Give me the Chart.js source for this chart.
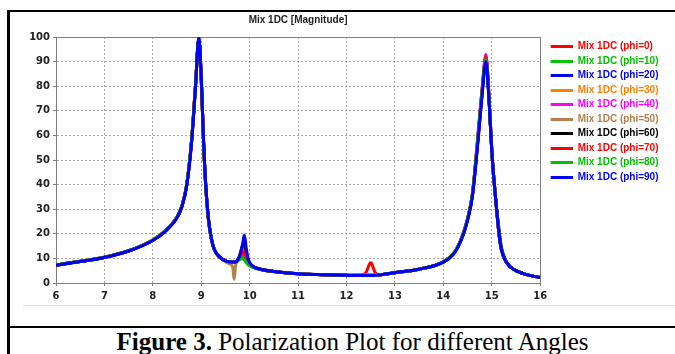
<!DOCTYPE html>
<html>
<head>
<meta charset="utf-8">
<script src="https://cdn.jsdelivr.net/npm/chart.js@4.4.1/dist/chart.umd.min.js"></script>
<style>
  html, body { margin: 0; padding: 0; background: #fff; }
  body { width: 675px; height: 354px; position: relative; overflow: hidden; }
  #frame { position: absolute; left: 7px; top: 10px; width: 668px; height: 344px;
           border-left: 3px solid #000; border-top: 2px solid #000; box-sizing: border-box; }
  #sep { position: absolute; left: 23px; top: 305px; width: 652px; height: 1px; background: #e2e2e2; }
  #rule { position: absolute; left: 7px; top: 326px; width: 668px; height: 2px; background: #000; }
  #cv { position: absolute; left: 12px; top: 12px; }
  #caption { position: absolute; left: 20px; top: 329px; width: 665px; text-align: center;
             font-family: "Liberation Serif", "Times New Roman", serif; font-size: 25px; line-height: 25px;
             color: #000; white-space: nowrap; }
</style>
</head>
<body>
<div id="frame"></div>
<div id="sep"></div>
<div id="rule"></div>
<canvas id="cv" width="663" height="292"></canvas>
<div id="caption"><b>Figure 3.</b> Polarization Plot for different Angles</div>
<script>
// frequency axis (GHz) and the magnitude of each polarization angle
var freq = [6, 6.5, 7, 7.5, 8, 8.25, 8.5, 8.6, 8.7, 8.8, 8.88, 8.95, 9.0, 9.05, 9.1, 9.15, 9.2, 9.25, 9.3, 9.4,
            9.5, 9.6, 9.65, 9.68, 9.71, 9.75, 9.8, 9.85, 9.89, 9.93, 9.97, 10.05, 10.2, 10.5, 11, 11.5, 12, 12.3, 12.4, 12.5,
            12.6, 12.7, 13, 13.5, 14, 14.2, 14.3, 14.4, 14.5, 14.6, 14.7, 14.8, 14.88, 14.95, 15.0, 15.05, 15.1, 15.15, 15.2, 15.3,
            15.4, 15.5, 15.7, 16];

var phi0  = [7.4,8.8,10.5,13.1,17.5,21.1,26.8,31.3,40,58, 80,99,83,56,37,25.5,18.8,14.7,12.4,10.2,
             9.0,8.6,8.5,8.5,8.6,9.2,10.5,12.5,11.5,9.5, 8.2,6.8,5.7,4.7,3.8,3.4,3.2,3.1,4.2,8.3,
             4.0,3.3,4.2,5.6,8.6,11.8,14.8,19.5,26,36, 56,78,92,73,54,41,30,20,13.5,8.5, 6.3,5.0,3.5,2.2];
var phi10 = [7.4,8.8,10.5,13.1,17.5,21.1,26.8,31.3,40,58, 80,99,83,56,37,25.5,18.8,14.7,12.4,10.2,
             9.0,8.6,8.5,8.5,8.6,9.0,9.8,10.5,9.8,8.5, 7.5,6.6,5.6,4.7,3.8,3.4,3.2,3.1,3.1,3.1,
             3.2,3.4,4.2,5.6,8.6,11.8,14.8,19.5,26,36, 56,78,91,73,54,41,30,20,13.5,8.5, 6.3,5.0,3.5,2.2];
var phi20 = [7.3,8.7,10.4,13.0,17.4,21.0,26.6,31.1,39.7,57.5, 79.5,99.5,83.5,56.5,37.5,25.8,18.9,14.8,12.5,10.2,
             9.0,8.6,8.5,8.5,8.6,9.3,11,13.5,14,11, 8.8,7.0,5.7,4.7,3.8,3.4,3.1,3.0,3.0,3.0,
             3.1,3.3,4.2,5.6,8.5,11.6,14.6,19.2,25.8,35.5, 55,77,90.5,72.5,54,41,30,20,13.5,8.5, 6.3,5.0,3.5,2.2];
var phi30 = [7.4,8.8,10.5,13.1,17.5,21.1,26.8,31.3,40,58, 80,99,83,56,37,25.5,18.8,14.7,12.4,10.2,
             9.0,8.6,8.5,8.5,8.6,9.2,10.8,13,12.5,10, 8.5,6.9,5.7,4.7,3.8,3.4,3.2,3.1,3.1,3.1,
             3.2,3.4,4.2,5.6,8.6,11.8,14.8,19.5,26,36, 56,78,91.5,73,54,41,30,20,13.5,8.5, 6.3,5.0,3.5,2.2];
var phi40 = [7.4,8.8,10.5,13.1,17.5,21.1,26.8,31.3,40,58, 80,99,83,56,37,25.5,18.8,14.7,12.4,10.2,
             9.0,8.6,8.5,8.5,8.6,9.1,10.4,12,11.2,9.4, 8.1,6.8,5.7,4.7,3.8,3.4,3.2,3.1,3.1,3.1,
             3.2,3.4,4.2,5.6,8.6,11.8,14.8,19.5,26,36, 57,79,93,74,55,41,30,20,13.5,8.5, 6.3,5.0,3.5,2.2];
var phi50 = [7.3,8.7,10.4,13.0,17.4,21.0,26.6,31.1,39.7,57.5, 79.5,99.5,83.5,56.5,37.5,25.8,18.9,14.8,12.5,10.2,
             8.6,7.6,6.5,1.5,7.0,9.0,11,14,14.5,11, 8.8,7.0,5.7,4.7,3.8,3.4,3.1,3.0,3.0,3.0,
             3.1,3.3,4.2,5.6,8.5,11.6,14.6,19.2,25.8,35.5, 55,77,91,73,54,41,30,20,13.5,8.5, 6.3,5.0,3.5,2.2];
var phi60 = [7.3,8.7,10.4,13.0,17.4,21.0,26.6,31.1,39.7,57.5, 79.5,99.5,83.5,56.5,37.5,25.8,18.9,14.8,12.5,10.2,
             9.0,8.6,8.5,8.5,8.6,9.4,11.5,15,16.5,12.5, 9.2,7.0,5.7,4.7,3.8,3.4,3.1,3.0,3.0,3.0,
             3.1,3.3,4.2,5.6,8.5,11.6,14.6,19.2,25.8,35.5, 55,77,90.5,72.5,54,41,30.5,22,14.5,8.8, 6.3,5.0,3.5,2.2];
var phi70 = [7.4,8.8,10.5,13.1,17.5,21.1,26.8,31.3,40,58, 80,99,83,56,37,25.5,18.8,14.7,12.4,10.2,
             9.0,8.6,8.5,8.5,8.6,9.2,10.6,12.8,12.5,10, 8.4,6.9,5.7,4.7,3.8,3.4,3.2,3.1,3.1,3.1,
             3.2,3.4,4.2,5.6,8.6,11.8,14.8,19.5,26,36, 56,78,92,73,54,41,30,20,13.5,8.5, 6.3,5.0,3.5,2.2];
var phi80 = [7.4,8.8,10.5,13.1,17.5,21.1,26.8,31.3,40,58, 80,99,83,56,37,25.5,18.8,14.7,12.4,10.2,
             9.0,8.6,8.5,8.5,8.6,9.0,9.6,10,9.4,8.3, 7.4,6.6,5.6,4.7,3.8,3.4,3.2,3.1,3.1,3.1,
             3.2,3.4,4.2,5.6,8.6,11.8,14.8,19.5,26,36, 56,78,91,73,54,41,30,20,13.5,8.5, 6.3,5.0,3.5,2.2];
var phi90 = [7.3,8.7,10.4,13.0,17.3,20.8,26.5,31,39.5,57, 79,100,84,57,38,26,19,14.8,12.5,10.2,
             9.0,8.6,8.5,8.5,8.6,9.3,11.5,15.5,19.5,14, 9.8,7.0,5.7,4.7,3.8,3.4,3.1,3.0,3.0,3.0,
             3.1,3.3,4.2,5.6,8.5,11.5,14.5,19,25.5,35, 54,76,90,72,54,41,30,20,13.5,8.5, 6.3,5.0,3.5,2.2];

var seriesNames  = ['Mix 1DC (phi=0)', 'Mix 1DC (phi=10)', 'Mix 1DC (phi=20)', 'Mix 1DC (phi=30)', 'Mix 1DC (phi=40)',
                    'Mix 1DC (phi=50)', 'Mix 1DC (phi=60)', 'Mix 1DC (phi=70)', 'Mix 1DC (phi=80)', 'Mix 1DC (phi=90)'];
var seriesValues = [phi0, phi10, phi20, phi30, phi40, phi50, phi60, phi70, phi80, phi90];
var seriesColors = ['#ff0000', '#00c000', '#0000ff', '#ff8000', '#ff00ff',
                    '#b4804e', '#000000', '#ff0000', '#00c000', '#0000ff'];

var xTicks = [6, 7, 8, 9, 10, 11, 12, 13, 14, 15, 16];
var yTicks = [0, 10, 20, 30, 40, 50, 60, 70, 80, 90, 100];

var datasets = [];
for (var i = 0; i < seriesValues.length; i++) {
    var pts = [];
    for (var j = 0; j < freq.length; j++) {
        pts.push({ x: freq[j], y: seriesValues[i][j] });
    }
    datasets.push({
        label: seriesNames[i],
        data: pts,
        borderColor: seriesColors[i],
        backgroundColor: seriesColors[i],
        borderWidth: 3,
        pointRadius: 0,
        cubicInterpolationMode: 'monotone',
        // last angle is painted on top, like the original
        order: seriesValues.length - 1 - i
    });
}

var tickFont = { family: 'DejaVu Sans', weight: 'bold', size: 10 };
var labelFont = { family: 'Liberation Sans', weight: 'bold', size: 10 };

// legend swatch: a short thick line with some empty room on its left
function lineSwatch(color) {
    var c = document.createElement('canvas');
    c.width = 28;
    c.height = 3;
    var g = c.getContext('2d');
    g.fillStyle = color;
    g.fillRect(6, 0, 22, 3);
    return c;
}

// closes the plot box on the top and right side
var plotBox = {
    id: 'plotBox',
    beforeDatasetsDraw: function(chart) {
        var a = chart.chartArea;
        var ctx = chart.ctx;
        ctx.save();
        ctx.strokeStyle = '#808080';
        ctx.lineWidth = 1;
        ctx.beginPath();
        ctx.moveTo(Math.round(a.left) + 0.5, Math.round(a.top) + 0.5);
        ctx.lineTo(Math.round(a.right) + 0.5, Math.round(a.top) + 0.5);
        ctx.lineTo(Math.round(a.right) + 0.5, Math.round(a.bottom) + 0.5);
        ctx.stroke();
        ctx.restore();
    }
};

var ctx = document.getElementById('cv').getContext('2d');
var chartObj = new Chart(ctx, {
    type: 'line',
    data: { datasets: datasets },
    plugins: [plotBox],
    options: {
        responsive: false,
        animation: false,
        layout: { padding: { left: 0, right: 6.5, top: 0, bottom: 0 } },
        scales: {
            x: {
                type: 'linear',
                min: 6, max: 16,
                afterBuildTicks: function(scale) {
                    scale.ticks = xTicks.map(function(v) { return { value: v }; });
                },
                afterFit: function(scale) { scale.height = 21; },
                ticks: { font: tickFont, color: '#222', padding: 4, maxRotation: 0 },
                grid: { color: '#a8a8a8', lineWidth: 1, tickLength: 3, tickColor: '#808080', tickBorderDash: [] },
                border: { color: '#808080', width: 1, dash: [2, 2] }
            },
            y: {
                type: 'linear',
                min: 0, max: 100,
                afterBuildTicks: function(scale) {
                    scale.ticks = yTicks.map(function(v) { return { value: v }; });
                },
                afterFit: function(scale) { scale.width = 44; },
                ticks: { font: tickFont, color: '#222', padding: 3 },
                grid: { color: '#a8a8a8', lineWidth: 1, tickLength: 3, tickColor: '#808080', tickBorderDash: [] },
                border: { color: '#808080', width: 1, dash: [2, 2] }
            }
        },
        plugins: {
            title: {
                display: true,
                text: 'Mix 1DC [Magnitude]',
                fullSize: false,
                color: '#222',
                font: labelFont,
                padding: { top: 2, bottom: 11 }
            },
            legend: {
                display: true,
                position: 'right',
                align: 'start',
                fullSize: false,
                labels: {
                    usePointStyle: true,
                    pointStyleWidth: 28,
                    boxHeight: 3,
                    padding: 4.5,
                    font: labelFont,
                    sort: function(a, b) { return a.datasetIndex - b.datasetIndex; },
                    generateLabels: function(chart) {
                        var items = Chart.defaults.plugins.legend.labels.generateLabels(chart);
                        items.forEach(function(it) {
                            var c = seriesColors[it.datasetIndex];
                            it.pointStyle = lineSwatch(c);
                            it.fillStyle = c;
                            it.strokeStyle = c;
                            it.fontColor = c;
                            it.lineWidth = 0;
                        });
                        return items;
                    }
                }
            },
            tooltip: { enabled: false }
        }
    }
});
</script>
</body>
</html>
